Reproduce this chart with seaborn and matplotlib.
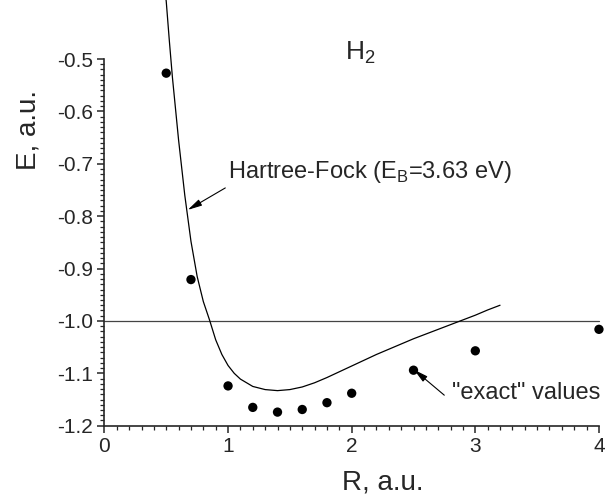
import numpy as np
import pandas as pd
import matplotlib
matplotlib.use("Agg")
import matplotlib.pyplot as plt
import seaborn as sns

# "exact" H2 energies
r_exact = [0.5, 0.7, 1.0, 1.2, 1.4, 1.6, 1.8, 2.0, 2.5, 3.0, 4.0]
e_exact = [-0.527, -0.921, -1.124, -1.165, -1.174, -1.169, -1.156, -1.138, -1.094, -1.057, -1.016]

# Hartree-Fock curve (traced)
r_hf = [0.49, 0.50, 0.525, 0.55, 0.60, 0.65, 0.70, 0.75, 0.80, 0.85, 0.90, 0.95,
        1.00, 1.05, 1.10, 1.20, 1.30, 1.40, 1.50, 1.60, 1.70, 1.80, 1.90, 2.00,
        2.10, 2.20, 2.30, 2.40, 2.50, 2.60, 2.70, 2.80, 2.90, 3.00, 3.10, 3.20]
e_hf = [-0.370, -0.390, -0.465, -0.535, -0.655, -0.760, -0.848, -0.915, -0.963,
        -0.998, -1.036, -1.064, -1.085, -1.100, -1.111, -1.125, -1.131, -1.133,
        -1.131, -1.126, -1.118, -1.108, -1.097, -1.086, -1.075, -1.064, -1.054,
        -1.044, -1.034, -1.025, -1.016, -1.007, -0.998, -0.989, -0.979, -0.970]

hf_label = "Hartree-Fock (E$_\\mathregular{B}$=3.63 eV)"
exact_label = '"exact" values'

sns.set_style("ticks")
plt.rcParams['font.family'] = ['Liberation Sans', 'DejaVu Sans']
plt.rcParams['mathtext.fontset'] = 'custom'
plt.rcParams['mathtext.rm'] = 'Liberation Sans'
plt.rcParams['axes.unicode_minus'] = False

fig = plt.figure(figsize=(6.05, 5.04), dpi=100)
ax = fig.add_axes([0.1726, 0.1553, 0.8174, 0.7276])

df_hf = pd.DataFrame({"R": r_hf, "E": e_hf})
df_ex = pd.DataFrame({"R": r_exact, "E": e_exact})

ax.axhline(-1.0, color="#444444", lw=0.9, zorder=1)
sns.lineplot(data=df_hf, x="R", y="E", sort=False, estimator=None, color="black",
             lw=0.9, ax=ax)
for ln in ax.lines:
    ln.set_clip_on(False)
sns.scatterplot(data=df_ex, x="R", y="E", color="black", s=45, edgecolor="none",
                ax=ax, zorder=3, clip_on=False)

ax.set_xlim(0, 4)
ax.set_ylim(-1.2, -0.5)
ax.set_xticks([0, 1, 2, 3, 4])
ax.set_xticklabels(["0", "1", "2", "3", "4"])
yt = np.round(np.arange(-1.2, -0.45, 0.1), 1)
ax.set_yticks(yt)
ax.set_yticklabels([f"{v:.1f}" for v in yt])
ax.xaxis.set_minor_locator(matplotlib.ticker.MultipleLocator(0.1))
ax.yaxis.set_minor_locator(matplotlib.ticker.MultipleLocator(0.01))
ax.tick_params(which="major", direction="out", length=5, width=1.1, labelsize=15, pad=3)
ax.tick_params(which="minor", direction="out", length=3, width=0.9)

sns.despine(ax=ax)
for sp in ["left", "bottom"]:
    ax.spines[sp].set_linewidth(1.2)

ax.set_xlabel("R, a.u.", fontsize=20)
ax.set_ylabel("E, a.u.", fontsize=20)
ax.xaxis.set_label_coords(0.563, -0.156)
ax.xaxis.label.set_va("center")
ax.yaxis.set_label_coords(-0.1545, 0.806)
ax.yaxis.label.set_va("center")

ax.text(1.946, -0.4885, "H$_\\mathregular{2}$", fontsize=19, ha="left", va="center")

ax.annotate(hf_label, xy=(0.674, -0.788), xytext=(1.0, -0.715), fontsize=17,
            ha="left", va="center",
            arrowprops=dict(arrowstyle="-|>,head_length=0.5,head_width=0.12",
                            color="black", lw=0.8, shrinkA=0, shrinkB=0,
                            relpos=(0.01, 0.0)))
ax.annotate(exact_label, xy=(2.504, -1.093), xytext=(2.809, -1.1375), fontsize=17,
            ha="left", va="center",
            arrowprops=dict(arrowstyle="-|>,head_length=0.5,head_width=0.12",
                            color="black", lw=0.8, shrinkA=0, shrinkB=0,
                            relpos=(-0.05, 0.4)))

fig.savefig("out.png", dpi=100)
